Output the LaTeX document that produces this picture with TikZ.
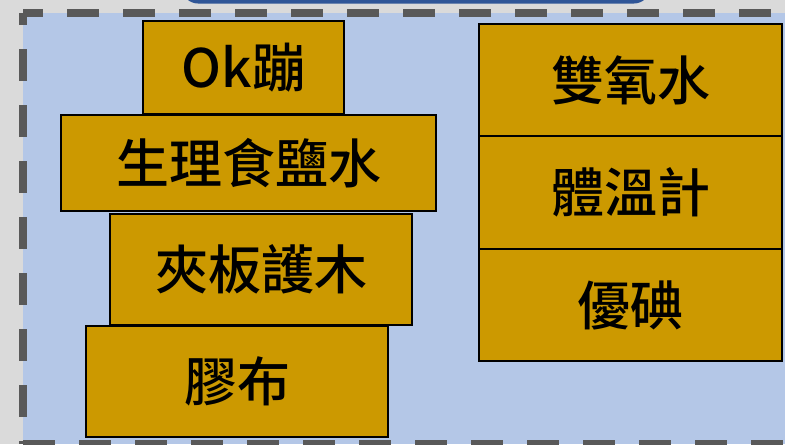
\documentclass[tikz,border=0pt]{standalone}
\usepackage{fontspec}
\newfontfamily\cjk{Noto Sans CJK TC}[UprightFont=* Medium]
\usepackage{tikz}
\definecolor{bgGray}{HTML}{DADADA}
\definecolor{panelBlue}{HTML}{B4C7E7}
\definecolor{titleBlue}{HTML}{2F5597}
\definecolor{dashGray}{HTML}{595959}
\definecolor{itemGold}{HTML}{CC9900}
\begin{document}
\begin{tikzpicture}[x=0.75pt, y=-0.75pt]
\useasboundingbox (0,0) rectangle (785,444);
\fill[bgGray] (0,0) rectangle (785,444);
\fill[titleBlue, rounded corners=12pt] (182,-40) rectangle (650,3.5);
\coordinate (tl) at (23,13);
\coordinate (tr) at (800,13);
\coordinate (bl) at (23,443.5);
\coordinate (br) at (800,443.5);
\fill[panelBlue] (tl) rectangle (br);
\tikzstyle{border} = [dashGray, line width=5.5pt]
\draw[border, dash pattern=on 24pt off 18pt, dash phase=9pt] (tl) -- (tr);
\draw[border, dash pattern=on 24pt off 18pt, dash phase=15pt] (tl) -- (bl);
\draw[border, dash pattern=on 24pt off 18pt] (bl) -- (br);
\tikzstyle{every node} = [rectangle, draw=black, line width=1.1pt, fill=itemGold, inner sep=0pt, font=\cjk\fontsize{39.75pt}{44pt}\selectfont]
\node[minimum width=150.75pt, minimum height=69.75pt] (okbeng) at (243.5,67.5) {Ok蹦};
\node[minimum width=281.25pt, minimum height=72pt] (saline) at (248.5,163) {生理食鹽水};
\node[minimum width=226.5pt, minimum height=83.25pt] (splint) at (261,269.5) {夾板護木};
\node[minimum width=226.5pt, minimum height=83.25pt] (tape) at (237,381.5) {膠布};
\node[minimum width=227.25pt, minimum height=84pt] (peroxide) at (630.5,80) {雙氧水};
\node[minimum width=227.25pt, minimum height=84.75pt] (thermo) at (630.5,192.5) {體溫計};
\node[minimum width=227.25pt, minimum height=84pt] (iodine) at (630.5,305) {優碘};
\end{tikzpicture}
\end{document}
